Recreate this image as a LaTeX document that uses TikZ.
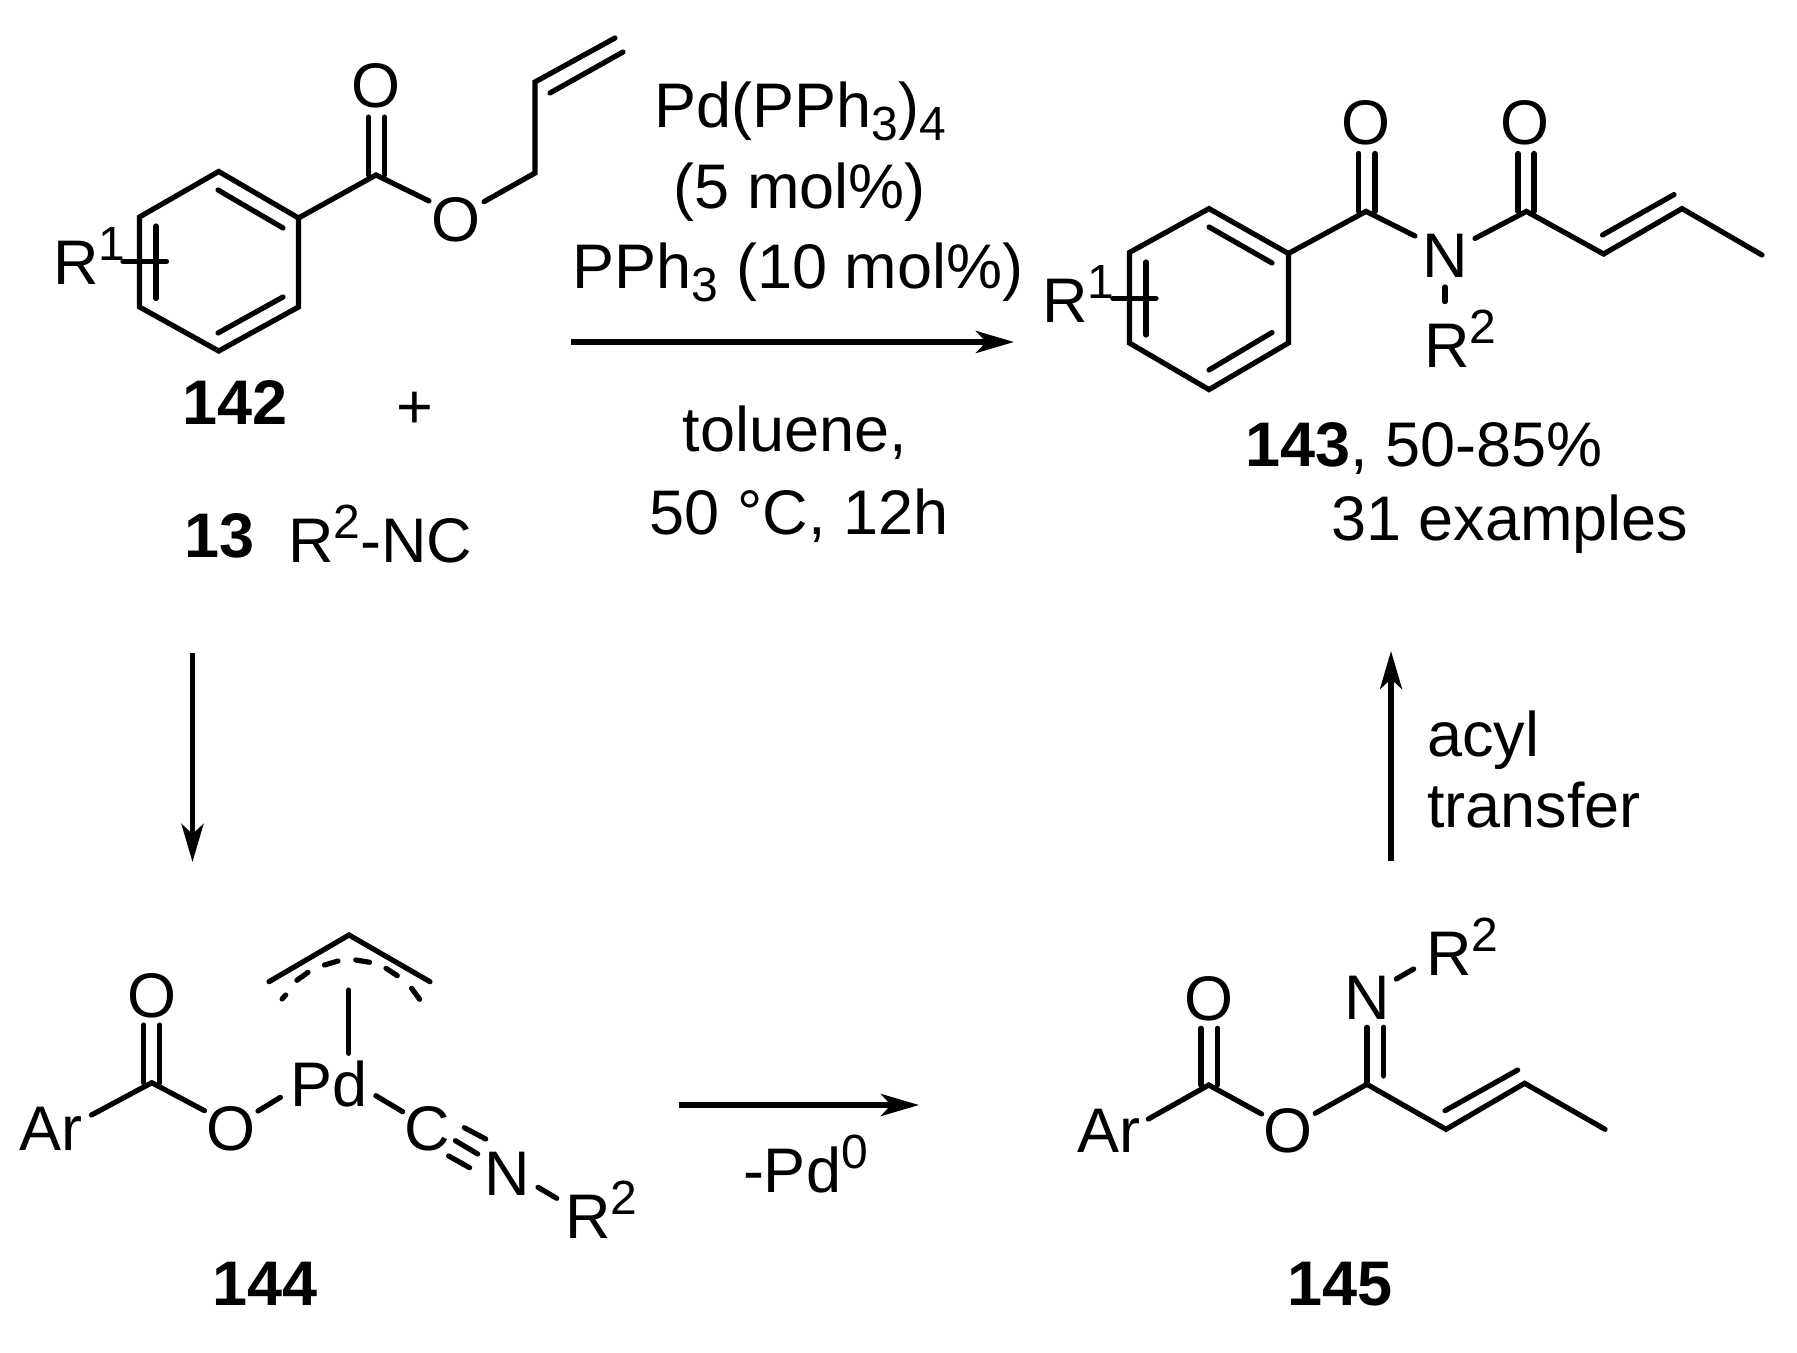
\documentclass[tikz,border=0pt]{standalone}
\usepackage{fontspec}
\setmainfont{Liberation Sans}
\usetikzlibrary{arrows.meta}
\newcommand{\supx}[1]{\raisebox{12pt}{\fontsize{24}{28}\selectfont #1}}
\newcommand{\subx}[1]{\raisebox{-6.5pt}{\fontsize{24}{28}\selectfont #1}}
\tikzset{
  bond/.style={line width=2.6pt,line cap=round,line join=miter,black},
  rxn/.style={line width=2.8pt,black,-{Stealth[length=19pt,width=11pt,inset=5pt]}},
  lab/.style={inner sep=0pt,outer sep=0pt,anchor=base west,font=\fontsize{31.5}{38}\selectfont},
  lbc/.style={lab,anchor=base},
  cmpd/.style={lab,anchor=base,font=\fontsize{31.5}{38}\selectfont\bfseries}
}
\begin{document}
\begin{tikzpicture}[x=0.5pt,y=-0.5pt]
\useasboundingbox (0,0) rectangle (1797,1353);

% ---------- 142
\draw[bond] (218.7,171.5) -- (298.5,218) -- (298.5,307) -- (218.7,351) -- (139.5,307) -- (139.5,217) -- cycle;
\draw[bond] (218,190) -- (283,228);
\draw[bond] (283,297) -- (218,333);
\draw[bond] (156,226) -- (156,298.5);
\draw[bond] (123,261.5) -- (166.5,261.5);
\draw[bond] (298.5,218) -- (376,175) -- (429,201);
\draw[bond] (368.5,117) -- (368.5,175);
\draw[bond] (384.6,117) -- (384.6,175);
\draw[bond] (484,201.7) -- (535,173) -- (535,82) -- (615,38);
\draw[bond] (550,93) -- (623,52);
\node[lab] (r1a) at (53,285) {R\supx{1}};
\node[lbc] (oa) at (376,108) {O};
\node[lbc] (ob) at (456,242) {O};
\node[cmpd] (c142) at (235,424) {142};
\node[lbc] (plus) at (415,428) {+};
\node[cmpd,anchor=base west] (c13) at (184,557) {13};
\node[lab] (rnc) at (288,562.6) {R\supx{2}-NC};

% ---------- conditions
\node[lbc] (c1) at (800,128) {Pd(PPh\subx{3})\subx{4}};
\node[lbc] (c2) at (800,208.6) {(5 mol\%)};
\node[lbc] (c3) at (798,289) {PPh\subx{3} (10 mol\%)};
\node[lbc] (c4) at (795,451.6) {toluene,};
\node[lbc] (c5) at (799,534) {50 °C, 12h};
\coordinate (a1s) at (571,342);
\coordinate (a1e) at (1014,342);
\draw[rxn] (a1s) -- (a1e);

% ---------- 143
\draw[bond] (1209,208.6) -- (1288.4,253.5) -- (1288.4,343) -- (1209,389.6) -- (1129.4,343) -- (1129.4,252.5) -- cycle;
\draw[bond] (1209,227) -- (1272,263);
\draw[bond] (1272,332.5) -- (1209,370);
\draw[bond] (1146,262) -- (1146,335);
\draw[bond] (1112.8,298.4) -- (1156,298.4);
\draw[bond] (1288.4,253.5) -- (1366,211.4) -- (1415,236);
\draw[bond] (1358.8,153.5) -- (1358.8,211.4);
\draw[bond] (1375,153.5) -- (1375,211.4);
\draw[bond] (1475,238.4) -- (1526.4,211.4) -- (1603.6,254) -- (1682,208.6) -- (1762,255);
\draw[bond] (1518,153.5) -- (1518,211.4);
\draw[bond] (1534,153.5) -- (1534,211.4);
\draw[bond] (1602.5,235) -- (1674,194.6);
\draw[bond] (1445,287) -- (1445,301.6);
\node[lab] (r1b) at (1042,322) {R\supx{1}};
\node[lbc] (oc) at (1366,145) {O};
\node[lbc] (od) at (1525,145) {O};
\node[lbc] (nb) at (1445,278) {N};
\node[lab] (r2b) at (1424,367.5) {R\supx{2}};
\node[lab] (c143) at (1245,466.5) {\textbf{143}, 50-85\%};
\node[lab] (ex) at (1331,540) {31 examples};

% ---------- arrows on the sides
\coordinate (a2s) at (192.5,653);
\coordinate (a2e) at (192.5,862);
\draw[rxn] (a2s) -- (a2e);
\coordinate (a3s) at (1391,861);
\coordinate (a3e) at (1391,651);
\draw[rxn] (a3s) -- (a3e);
\node[lab] (acyl) at (1427,756) {acyl};
\node[lab] (transfer) at (1427,827) {transfer};

% ---------- 144
\draw[bond] (91.5,1115) -- (151.8,1082.7) -- (204.5,1110.7);
\draw[bond] (143.8,1025) -- (143.8,1082.7);
\draw[bond] (159.8,1025) -- (159.8,1082.7);
\draw[bond] (258,1111) -- (280.4,1097.3);
\draw[bond] (348.7,990) -- (348.7,1053.3);
\draw[bond] (269,981.7) -- (349,935) -- (430,981.7);
\draw[bond] (282.1,999) -- (285.7,995);
\draw[bond] (296.9,980.3) -- (308,972.3);
\draw[bond] (324.5,965) -- (338,961);
\draw[bond] (355.8,960) -- (369.6,962.3);
\draw[bond] (386,968.3) -- (397.3,975.7);
\draw[bond] (411.6,988.3) -- (419.6,999.3);
\draw[bond] (375.9,1095.7) -- (402.7,1111.7);
\draw[bond] (464.3,1127.7) -- (485.7,1139);
\draw[bond] (455.4,1140.7) -- (477.7,1154);
\draw[bond] (448.7,1156) -- (469.6,1167.7);
\draw[bond] (538,1187.3) -- (556.7,1198.3);
\node[lab] (ar1) at (19,1150) {Ar};
\node[lbc] (oe) at (151.8,1017) {O};
\node[lbc] (of) at (230.8,1150) {O};
\node[lab] (pd) at (290,1106) {Pd};
\node[lbc] (cc) at (427,1150) {C};
\node[lbc] (nc) at (507,1195) {N};
\node[lab] (r2c) at (565,1238.3) {R\supx{2}};
\node[cmpd] (c144) at (265,1305.7) {144};

% ---------- middle arrow
\coordinate (a4s) at (678.5,1105);
\coordinate (a4e) at (919,1105);
\draw[rxn] (a4s) -- (a4e);
\node[lab] (mpd) at (743,1192) {-Pd\supx{0}};

% ---------- 145
\draw[bond] (1148.4,1119) -- (1208.8,1085) -- (1261.6,1114);
\draw[bond] (1201,1028.3) -- (1201,1085);
\draw[bond] (1217.6,1028.3) -- (1217.6,1085);
\draw[bond] (1315.2,1113.3) -- (1366.9,1084.3) -- (1446,1129.3) -- (1524.6,1083.3) -- (1605,1129.3);
\draw[bond] (1366.9,1027.3) -- (1366.9,1084.3);
\draw[bond] (1383.7,1027.3) -- (1383.7,1076);
\draw[bond] (1445,1110.7) -- (1517.7,1070);
\draw[bond] (1396.3,979) -- (1413.6,969);
\node[lab] (ar2) at (1077,1152.3) {Ar};
\node[lbc] (og) at (1208.8,1020) {O};
\node[lbc] (oh) at (1288,1152.3) {O};
\node[lbc] (nd) at (1367,1019.3) {N};
\node[lab] (r2d) at (1426,975) {R\supx{2}};
\node[cmpd] (c145) at (1340,1305.7) {145};
\end{tikzpicture}
\end{document}
